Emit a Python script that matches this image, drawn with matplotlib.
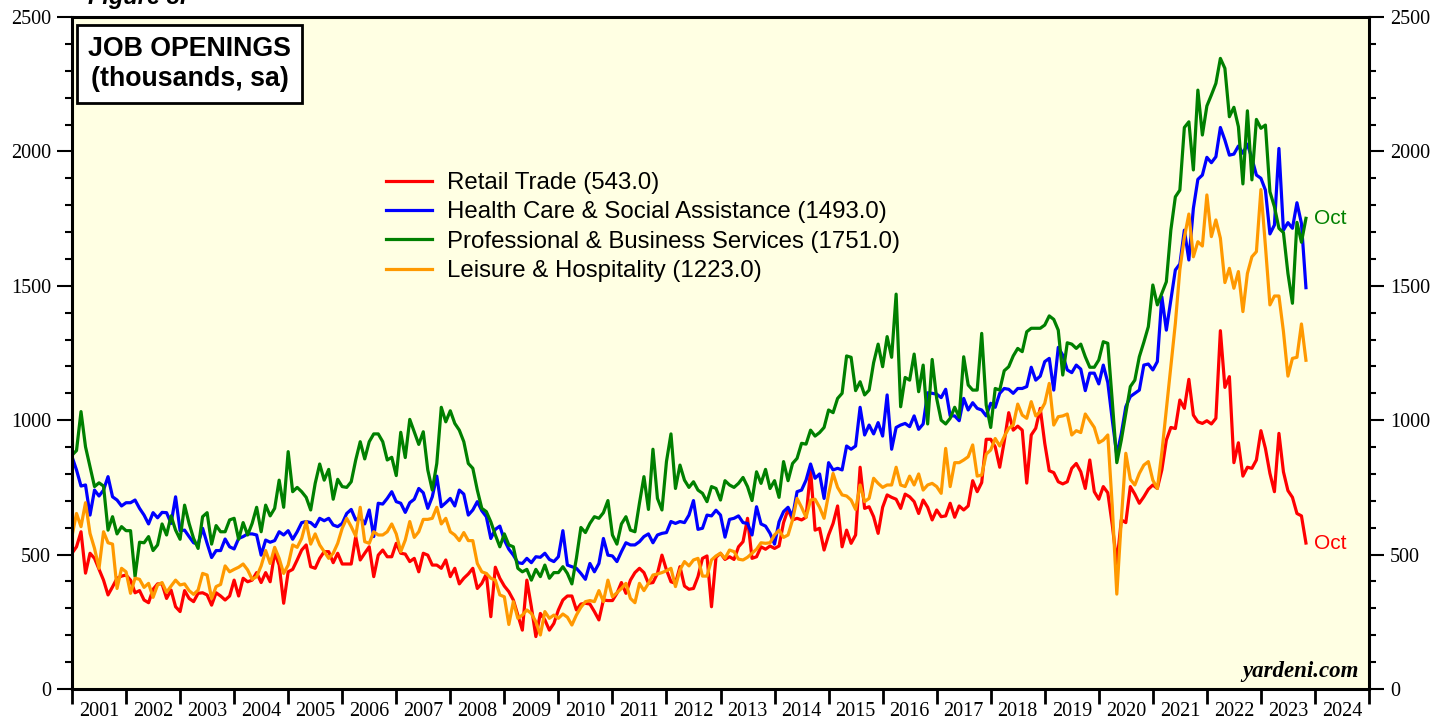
import matplotlib
matplotlib.use('Agg')

import matplotlib.pyplot as plt
import numpy as np
import pandas as pd
from matplotlib.ticker import MultipleLocator, NullFormatter

# monthly job openings (thousands, sa), Dec 2000 .. Oct 2023
retail = [
    505, 529, 585, 431, 505, 486, 445, 405, 350, 380,
    412, 420, 424, 405, 358, 366, 331, 321, 371, 391,
    391, 337, 368, 306, 288, 366, 337, 325, 356, 358,
    350, 312, 358, 346, 331, 346, 405, 346, 412, 399,
    405, 433, 396, 433, 399, 507, 461, 319, 436, 445,
    480, 517, 536, 455, 449, 486, 511, 511, 470, 505,
    465, 465, 465, 567, 480, 505, 529, 418, 498, 517,
    492, 492, 542, 505, 502, 474, 486, 436, 505, 498,
    461, 461, 449, 480, 418, 449, 391, 412, 428, 449,
    374, 393, 428, 269, 453, 412, 383, 362, 331, 275,
    219, 405, 306, 195, 281, 257, 219, 244, 294, 331,
    346, 346, 294, 316, 319, 316, 288, 257, 331, 329,
    329, 356, 396, 356, 405, 433, 449, 433, 393, 396,
    430, 498, 443, 399, 393, 455, 383, 371, 374, 418,
    486, 495, 306, 490, 505, 482, 492, 482, 529, 548,
    635, 486, 492, 529, 520, 532, 523, 532, 619, 668,
    629, 635, 629, 639, 815, 591, 598, 517, 573, 616,
    681, 529, 591, 542, 573, 825, 672, 678, 641, 579,
    676, 722, 713, 706, 672, 725, 715, 697, 653, 703,
    676, 629, 666, 641, 644, 691, 639, 681, 666, 681,
    775, 734, 768, 929, 929, 901, 825, 920, 1028, 963,
    978, 963, 766, 945, 970, 1044, 914, 812, 805, 771,
    763, 771, 821, 839, 808, 746, 852, 734, 706, 753,
    730, 610, 467, 629, 619, 753, 725, 691, 715, 743,
    759, 746, 815, 926, 973, 969, 1075, 1044, 1152, 1019,
    994, 988, 998, 986, 1007, 1333, 1122, 1162, 842, 916,
    792, 825, 821, 852, 961, 895, 802, 734, 951, 808,
    738, 713, 653, 644, 543]

health = [
    864, 815, 755, 759, 647, 740, 718, 740, 790, 715,
    703, 681, 693, 693, 703, 672, 647, 614, 656, 637,
    657, 656, 616, 715, 589, 591, 567, 544, 539, 598,
    542, 489, 515, 515, 558, 529, 521, 560, 567, 577,
    577, 573, 498, 554, 546, 552, 585, 573, 589, 557,
    585, 619, 623, 619, 604, 635, 626, 635, 610, 604,
    616, 653, 668, 629, 639, 614, 666, 567, 691, 688,
    709, 734, 697, 691, 657, 693, 706, 746, 730, 672,
    715, 792, 678, 693, 709, 681, 740, 725, 647, 666,
    697, 663, 641, 560, 594, 606, 554, 520, 498, 470,
    467, 486, 470, 492, 490, 505, 482, 474, 492, 589,
    461, 455, 449, 430, 408, 467, 436, 467, 560, 498,
    495, 474, 511, 544, 536, 536, 548, 567, 577, 544,
    573, 579, 582, 623, 616, 623, 619, 647, 701, 594,
    598, 647, 644, 665, 647, 565, 631, 635, 644, 619,
    616, 573, 678, 614, 606, 579, 539, 622, 660, 676,
    641, 734, 740, 777, 837, 784, 800, 709, 842, 815,
    821, 815, 904, 892, 904, 1048, 945, 982, 949, 991,
    941, 1094, 892, 973, 982, 988, 976, 1016, 966, 986,
    1102, 1100, 1097, 1084, 1115, 1016, 1016, 998, 1081, 1038,
    1065, 1044, 1038, 1016, 1063, 1048, 1100, 1118, 1115, 1100,
    1118, 1118, 1125, 1197, 1149, 1164, 1218, 1230, 1112, 1271,
    1242, 1187, 1177, 1205, 1190, 1110, 1175, 1175, 1135, 1205,
    1140, 1000, 870, 950, 1050, 1088, 1100, 1112, 1205, 1209,
    1187, 1218, 1459, 1335, 1447, 1559, 1581, 1707, 1596, 1788,
    1896, 1912, 1978, 1958, 1980, 2089, 2042, 1986, 1990, 2020,
    1993, 2027, 1974, 1912, 1900, 1856, 1693, 1726, 2011, 1707,
    1735, 1714, 1809, 1732, 1493]

prof = [
    870, 887, 1032, 901, 827, 753, 767, 755, 591, 641,
    577, 604, 589, 589, 418, 546, 544, 567, 515, 536,
    614, 573, 644, 591, 557, 684, 616, 560, 523, 641,
    656, 539, 608, 585, 585, 629, 635, 557, 619, 573,
    616, 676, 585, 684, 644, 672, 777, 676, 883, 734,
    750, 734, 713, 666, 765, 837, 777, 817, 706, 780,
    753, 750, 771, 852, 920, 856, 920, 949, 949, 920,
    852, 862, 794, 955, 861, 1003, 957, 910, 957, 815,
    740, 839, 1048, 994, 1035, 988, 963, 920, 839, 821,
    740, 672, 660, 622, 573, 529, 577, 536, 529, 449,
    436, 445, 405, 445, 418, 461, 412, 433, 433, 455,
    430, 391, 486, 601, 582, 616, 641, 635, 656, 701,
    573, 539, 614, 641, 591, 585, 691, 790, 668, 892,
    709, 666, 846, 949, 746, 833, 777, 750, 771, 740,
    728, 697, 753, 746, 703, 775, 759, 750, 765, 787,
    753, 701, 808, 765, 817, 746, 775, 713, 846, 775,
    839, 858, 914, 911, 963, 941, 954, 973, 1038, 1028,
    1081, 1100, 1239, 1234, 1110, 1143, 1094, 1112, 1214, 1283,
    1199, 1311, 1234, 1469, 1050, 1159, 1149, 1246, 1106, 1205,
    986, 1226, 1081, 1000, 986, 1007, 1048, 1011, 1236, 1131,
    1112, 1112, 1323, 1056, 973, 1118, 1112, 1184, 1199, 1239,
    1267, 1255, 1329, 1342, 1342, 1342, 1354, 1388, 1375, 1335,
    1168, 1288, 1283, 1267, 1283, 1236, 1197, 1197, 1224, 1292,
    1286, 1069, 842, 926, 1025, 1125, 1149, 1236, 1290, 1348,
    1503, 1429, 1472, 1515, 1707, 1831, 1856, 2089, 2110, 1931,
    2228, 2061, 2169, 2210, 2253, 2346, 2309, 2129, 2164, 2092,
    1879, 2151, 1894, 2119, 2086, 2098, 1850, 1794, 1714, 1698,
    1546, 1435, 1736, 1662, 1751]

leisure = [
    569, 653, 604, 693, 579, 523, 449, 585, 544, 539,
    374, 449, 436, 356, 412, 408, 378, 393, 341, 387,
    396, 360, 383, 405, 387, 391, 366, 352, 368, 430,
    424, 337, 381, 389, 458, 436, 445, 453, 465, 443,
    408, 418, 458, 515, 467, 527, 486, 430, 461, 536,
    527, 560, 623, 539, 577, 536, 511, 486, 505, 542,
    598, 635, 604, 569, 676, 548, 542, 585, 573, 573,
    585, 614, 577, 511, 554, 623, 564, 585, 631, 631,
    635, 676, 614, 635, 585, 573, 552, 582, 552, 552,
    467, 436, 430, 412, 405, 350, 343, 240, 325, 263,
    275, 294, 281, 250, 201, 288, 263, 275, 263, 279,
    267, 238, 275, 304, 325, 329, 325, 366, 325, 405,
    343, 358, 374, 393, 337, 321, 393, 366, 393, 424,
    428, 433, 440, 449, 381, 443, 474, 458, 480, 486,
    420, 420, 480, 495, 505, 486, 517, 511, 483, 480,
    490, 505, 520, 544, 542, 544, 573, 591, 564, 573,
    629, 709, 676, 639, 703, 706, 676, 635, 725, 802,
    750, 722, 718, 703, 668, 759, 697, 709, 784, 765,
    750, 759, 759, 825, 759, 753, 792, 759, 800, 740,
    759, 765, 753, 728, 895, 753, 842, 842, 852, 864,
    908, 792, 796, 874, 889, 932, 904, 939, 970, 982,
    1060, 1019, 1007, 1069, 1016, 1032, 1063, 1137, 982, 1013,
    1016, 1023, 945, 961, 954, 1023, 998, 973, 916, 926,
    945, 678, 353, 629, 877, 780, 759, 802, 833, 846,
    777, 746, 880, 1040, 1200, 1360, 1560, 1680, 1767, 1608,
    1664, 1648, 1838, 1683, 1745, 1677, 1512, 1565, 1491, 1553,
    1404, 1546, 1608, 1627, 1858, 1648, 1429, 1462, 1462, 1330,
    1164, 1230, 1234, 1358, 1223]

names = ['Retail Trade', 'Health Care & Social Assistance',
         'Professional & Business Services', 'Leisure & Hospitality']
colors = ['#ff0000', '#0000ff', '#008000', '#ff9900']
years = np.arange(2001, 2025)

dates = pd.date_range('2000-12-01', periods=len(retail), freq='MS')
xs = dates.year + dates.month / 12.0   # plotted at month end

plt.rcParams['font.family'] = ['Liberation Serif', 'DejaVu Serif']
sans = ['Liberation Sans', 'DejaVu Sans']

fig = plt.figure(figsize=(14.5, 7.21), dpi=100)
ax = fig.add_axes([72 / 1450, 1 - 689 / 721, (1369 - 72) / 1450, (689 - 17) / 721])
ax.set_facecolor('#ffffe3')

series = [retail, health, prof, leisure]
for vals, col, name in zip(series, colors, names):
    ax.plot(xs, vals, color=col, lw=2.3, label=f'{name} ({vals[-1]:.1f})')

ax.set_xlim(2001, 2025)
ax.set_ylim(0, 2500)

# x axis: year boundaries as ticks, labels centred in each year
ax.set_xticks(np.arange(2001, 2026))
ax.xaxis.set_major_formatter(NullFormatter())
ax.set_xticks(years + 0.5, labels=[str(y) for y in years], minor=True)
ax.tick_params(axis='x', which='major', direction='out', length=11, width=2)
ax.tick_params(axis='x', which='minor', length=0, pad=9, labelsize=14.5)

ax.set_yticks(np.arange(0, 2501, 500))
ax.yaxis.set_minor_locator(MultipleLocator(100))
ax.tick_params(axis='y', which='both', left=True, right=True,
               labelleft=True, labelright=True, direction='out')
ax.tick_params(axis='y', which='major', length=11, width=1.5, pad=4, labelsize=14.5)
ax.tick_params(axis='y', which='minor', length=5, width=1.5)

for sp in ax.spines.values():
    sp.set_linewidth(2.2)

# title box
fig.text(189.5 / 1450, 1 - 64 / 721, 'JOB OPENINGS\n(thousands, sa)', ha='center', va='center',
         fontsize=19.3, fontweight='bold', family=sans, linespacing=1.2,
         bbox=dict(boxstyle='square,pad=0.42', fc='white', ec='black', lw=2))

fig.text(88 / 1450, 1 - 4 / 721, 'Figure 3.', ha='left', va='baseline',
         fontsize=17, fontweight='bold', fontstyle='italic', family=sans)

leg = ax.legend(loc='upper left', bbox_to_anchor=(386 / 1450, 1 - 172 / 721),
                bbox_transform=fig.transFigure, frameon=False,
                prop={'family': sans, 'size': 17.3}, handlelength=1.9,
                handletextpad=0.63, labelspacing=0.31, borderpad=0, borderaxespad=0)

# end-of-series labels
ax.annotate('Oct', xy=(xs[-1], prof[-1]), xytext=(6, 0), textcoords='offset points',
            va='center', ha='left', color='#008000', fontsize=15, family=sans)
ax.annotate('Oct', xy=(xs[-1], retail[-1]), xytext=(6, 0), textcoords='offset points',
            va='center', ha='left', color='#ff0000', fontsize=15, family=sans)

ax.text(0.992, 0.01, 'yardeni.com', transform=ax.transAxes, ha='right', va='bottom',
        fontsize=16.5, fontweight='bold', fontstyle='italic')

fig.savefig('out.png', dpi=100)
